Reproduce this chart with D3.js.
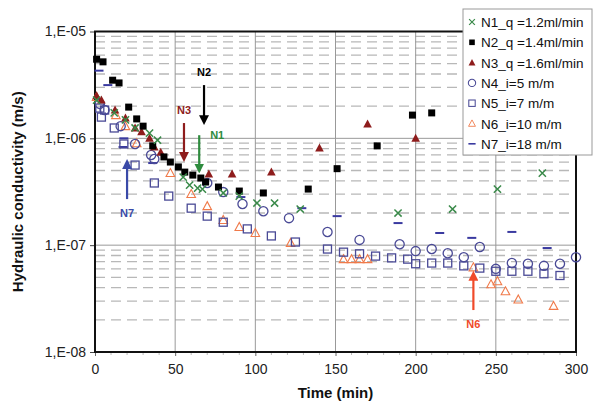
<!DOCTYPE html>
<html><head><meta charset="utf-8">
<script src="https://cdn.jsdelivr.net/npm/d3@7"></script>
<style>body{margin:0;background:#fff;}svg{display:block;font-family:"Liberation Sans",Arial,sans-serif;}</style>
</head><body><svg id="c" width="596" height="411"></svg>
<script>
// Data: [time (min), hydraulic conductivity (m/s)]
const N1 = [[1,2.28e-6],[12,1.73e-6],[19,1.49e-6],[25,1.25e-6],[34,1.12e-6],[39,9.6e-7],[55,4.34e-7],[59,3.65e-7],[64,3.42e-7],[67,3.35e-7],[80,3.08e-7],[90,2.88e-7],[101,2.48e-7],[112,2.48e-7],[128,2.18e-7],[189,2.0e-7],[223,2.18e-7],[251,3.35e-7],[279,4.73e-7]];
const N2 = [[1,5.5e-6],[5,5.2e-6],[11,3.5e-6],[15,3.3e-6],[21,1.96e-6],[26,1.52e-6],[30,1.30e-6],[36,8.5e-7],[43,6.7e-7],[47,6.0e-7],[52,5.4e-7],[56,4.83e-7],[61,4.53e-7],[66,4.25e-7],[69,3.9e-7],[77,3.5e-7],[90,3.21e-7],[105,3.08e-7],[133,3.35e-7],[151,5.2e-7],[176,8.5e-7],[198,1.65e-6],[210,1.73e-6]];
const N3 = [[1,2.5e-6],[4,2.28e-6],[12.5,1.84e-6],[19,1.55e-6],[25,1.25e-6],[29,1.15e-6],[34,1.0e-6],[37,8.3e-7],[41,7.4e-7],[71,4.63e-7],[85.5,4.63e-7],[110,4.83e-7],[140,8.1e-7],[170,1.36e-6],[200,1.0e-6]];
const N4 = [[3,2.1e-6],[6,1.84e-6],[16,1.30e-6],[25,8.85e-7],[35,6.98e-7],[37,6.4e-7],[70,3.82e-7],[80,3.14e-7],[92,2.43e-7],[105,2.08e-7],[121,1.79e-7],[145,1.33e-7],[165,1.12e-7],[190,1.02e-7],[200,8.8e-8],[210,9.2e-8],[220,8.4e-8],[230,7.7e-8],[240,9.6e-8],[250,6.0e-8],[260,6.8e-8],[270,6.7e-8],[280,6.4e-8],[290,6.7e-8],[300,7.7e-8]];
const N5 = [[3,1.92e-6],[4,1.58e-6],[6,1.84e-6],[12,1.25e-6],[18,8.85e-7],[25,5.62e-7],[37,3.82e-7],[46,2.88e-7],[60,2.22e-7],[70,1.87e-7],[80,1.64e-7],[95,1.42e-7],[110,1.22e-7],[125,1.07e-7],[145,9.2e-8],[155,8.6e-8],[165,8.3e-8],[175,7.9e-8],[185,7.6e-8],[195,7.4e-8],[200,6.7e-8],[210,6.8e-8],[220,6.8e-8],[230,6.4e-8],[240,6.1e-8],[250,5.7e-8],[260,5.7e-8],[270,5.7e-8],[280,5.4e-8],[290,5.2e-8]];
const N6 = [[1,2.44e-6],[13,1.65e-6],[19,1.30e-6],[26,9.0e-7],[47,4.73e-7],[60,3.01e-7],[70,2.32e-7],[80,1.72e-7],[90,1.48e-7],[100,1.30e-7],[122,1.05e-7],[155,7.4e-8],[160,7.4e-8],[165,7.4e-8],[170,7.4e-8],[236,6.2e-8],[247,4.3e-8],[251,4.6e-8],[256,3.7e-8],[264,3.1e-8],[286,2.7e-8]];
const N7 = [[2.5,4.3e-6],[8,3.15e-6],[17.5,8.3e-7],[18,1.0e-6],[36,5.87e-7],[91,2.82e-7],[129,2.22e-7],[151,1.87e-7],[189,1.61e-7],[215,1.30e-7],[235,1.17e-7],[260,1.33e-7],[282,9.4e-8]];
const seriesNames = ["N1_q =1.2ml/min","N2_q =1.4ml/min","N3_q =1.6ml/min","N4_i=5 m/m","N5_i=7 m/m","N6_i=10 m/m","N7_i=18 m/m"];
const xTicks = [0,50,100,150,200,250,300];
const yTicks = [1e-8,1e-7,1e-6,1e-5];
const yTickLabels = ["1,E-08","1,E-07","1,E-06","1,E-05"];
// annotations: label, time, K at arrow start, K at arrow tip
const annotations = [
  {label:"N2", t:68, k0:3.15e-6, k1:1.42e-6},
  {label:"N3", t:55.5, k0:1.39e-6, k1:6.4e-7},
  {label:"N1", t:65, k0:1.07e-6, k1:5.0e-7},
  {label:"N7", t:20, k0:2.7e-7, k1:6.0e-7},
  {label:"N6", t:236, k0:2.47e-8, k1:5.4e-8}
];

const svg = d3.select("#c");
const L=95,R=576,T=31.5,B=352;
const x = d3.scaleLinear().domain([0,300]).range([L,R]);
const y = d3.scaleLog().domain([1e-8,1e-5]).range([B,T]);

// minor dashed grid
const g = svg.append("g");
const minors=[];
for (let e=-8;e<-5;e++) for (let m=2;m<=9;m++) minors.push(m*Math.pow(10,e));
g.selectAll(".mn").data(minors).join("line")
  .attr("x1",L).attr("x2",R).attr("y1",d=>y(d)).attr("y2",d=>y(d))
  .attr("stroke","#b8b8b8").attr("stroke-width",1.3).attr("stroke-dasharray","10,6");
g.selectAll(".mj").data(yTicks.slice(1,3)).join("line")
  .attr("x1",L).attr("x2",R).attr("y1",d=>y(d)).attr("y2",d=>y(d))
  .attr("stroke","#999").attr("stroke-width",1);
g.selectAll(".vx").data(xTicks.slice(1,6)).join("line")
  .attr("x1",d=>x(d)).attr("x2",d=>x(d)).attr("y1",T).attr("y2",B)
  .attr("stroke","#999").attr("stroke-width",1);

// axes
const xAxis = d3.axisBottom(x).tickValues(xTicks).tickSize(4).tickPadding(8);
const gx = svg.append("g").attr("transform",`translate(0,${B})`).call(xAxis);
gx.select(".domain").remove();
gx.selectAll("text").attr("font-size",14).attr("fill","#222").attr("font-family","Liberation Sans, Arial");
gx.selectAll("line").attr("stroke","#666");
svg.append("g").selectAll("line").data(d3.range(10,300,10).filter(v=>v%50)).join("line")
  .attr("x1",d=>x(d)).attr("x2",d=>x(d)).attr("y1",B).attr("y2",B+3).attr("stroke","#bbb");

const yAxis = d3.axisLeft(y).tickValues(yTicks).tickFormat((d,i)=>yTickLabels[i]).tickSize(5).tickPadding(4);
const gy = svg.append("g").attr("transform",`translate(${L},0)`).call(yAxis);
gy.select(".domain").remove();
gy.selectAll("text").attr("font-size",14).attr("fill","#222").attr("font-family","Liberation Sans, Arial");
gy.selectAll("line").attr("stroke","#444");

// frame
svg.append("rect").attr("x",L).attr("y",T).attr("width",R-L).attr("height",B-T)
  .attr("fill","none").attr("stroke","#111").attr("stroke-width",2);

// axis titles
svg.append("text").attr("x",(L+R)/2).attr("y",398).attr("text-anchor","middle")
  .attr("font-size",15).attr("font-weight","bold").attr("fill","#111").text("Time (min)");
svg.append("text").attr("transform",`translate(23,${(T+B)/2}) rotate(-90)`).attr("text-anchor","middle")
  .attr("font-size",15).attr("font-weight","bold").attr("fill","#111").text("Hydraulic conductivity (m/s)");

// markers
const colors = ["#3a8a4a","#000000","#8e1c1c","#4a4a96","#4a4a96","#f07a4a","#3a3aa0"];
const sym = {
  xmark:(s,c)=>s.append("path").attr("d","M-3.6,-3.6L3.6,3.6M-3.6,3.6L3.6,-3.6").attr("stroke",c).attr("stroke-width",1.5).attr("fill","none"),
  sqf:(s,c)=>s.append("rect").attr("x",-3.5).attr("y",-3.5).attr("width",7).attr("height",7).attr("fill",c),
  trf:(s,c)=>s.append("path").attr("d","M0,-4.5L4.3,3.5L-4.3,3.5Z").attr("fill",c),
  circ:(s,c)=>s.append("circle").attr("r",4.6).attr("fill","none").attr("stroke",c).attr("stroke-width",1.3),
  sqo:(s,c)=>s.append("rect").attr("x",-4).attr("y",-4).attr("width",8).attr("height",8).attr("fill","none").attr("stroke",c).attr("stroke-width",1.3),
  tro:(s,c)=>s.append("path").attr("d","M0,-4.5L4.3,3.5L-4.3,3.5Z").attr("fill","none").attr("stroke",c).attr("stroke-width",1.1),
  dash:(s,c)=>s.append("line").attr("x1",-4.5).attr("x2",4.5).attr("stroke",c).attr("stroke-width",2)
};
const symKeys=["xmark","sqf","trf","circ","sqo","tro","dash"];
const allSeries=[N1,N2,N3,N4,N5,N6,N7];
const drawOrder=[6,5,4,3,2,1,0];
drawOrder.forEach(i=>{
  const grp=svg.append("g");
  grp.selectAll("g").data(allSeries[i]).join("g")
    .attr("transform",d=>`translate(${x(d[0])},${y(d[1])})`)
    .each(function(){sym[symKeys[i]](d3.select(this),colors[i]);});
});

// annotations
const annColors={N1:"#2e8b3e",N2:"#000",N3:"#8e1c1c",N6:"#f04a2a",N7:"#3a4aa8"};
const defs=svg.append("defs");
annotations.forEach(a=>{
  const c=annColors[a.label];
  const id="ah"+a.label;
  defs.append("marker").attr("id",id).attr("viewBox","0 0 10 10").attr("refX",7).attr("refY",5)
    .attr("markerWidth",4.5).attr("markerHeight",4.5).attr("orient","auto")
    .append("path").attr("d","M0,0L10,5L0,10Z").attr("fill",c);
  const X=x(a.t);
  svg.append("line").attr("x1",X).attr("x2",X).attr("y1",y(a.k0)).attr("y2",y(a.k1))
    .attr("stroke",c).attr("stroke-width",2.2).attr("marker-end",`url(#${id})`);
  let lx=X, ly;
  const down = a.k1<a.k0;
  if (a.label==="N1"){lx=X+18; ly=y(a.k0)+4;}
  else if(down){ly=y(a.k0)-9;}
  else {ly=y(a.k0)+18;}
  svg.append("text").attr("x",lx).attr("y",ly).attr("text-anchor","middle")
    .attr("font-size",11).attr("font-weight","bold").attr("fill",c).text(a.label);
});

// legend
const lg=svg.append("g");
lg.append("rect").attr("x",463).attr("y",9).attr("width",129).attr("height",146)
  .attr("fill","#fff").attr("stroke","#999").attr("stroke-width",1);
seriesNames.forEach((n,i)=>{
  const yy=22+i*20.3;
  const s=lg.append("g").attr("transform",`translate(472,${yy})`);
  sym[symKeys[i]](s,colors[i]);
  s.selectAll("*").attr("transform","scale(0.8)");
  lg.append("text").attr("x",481).attr("y",yy+5).attr("font-size",13.5).attr("fill","#111").text(n);
});
</script></body></html>
